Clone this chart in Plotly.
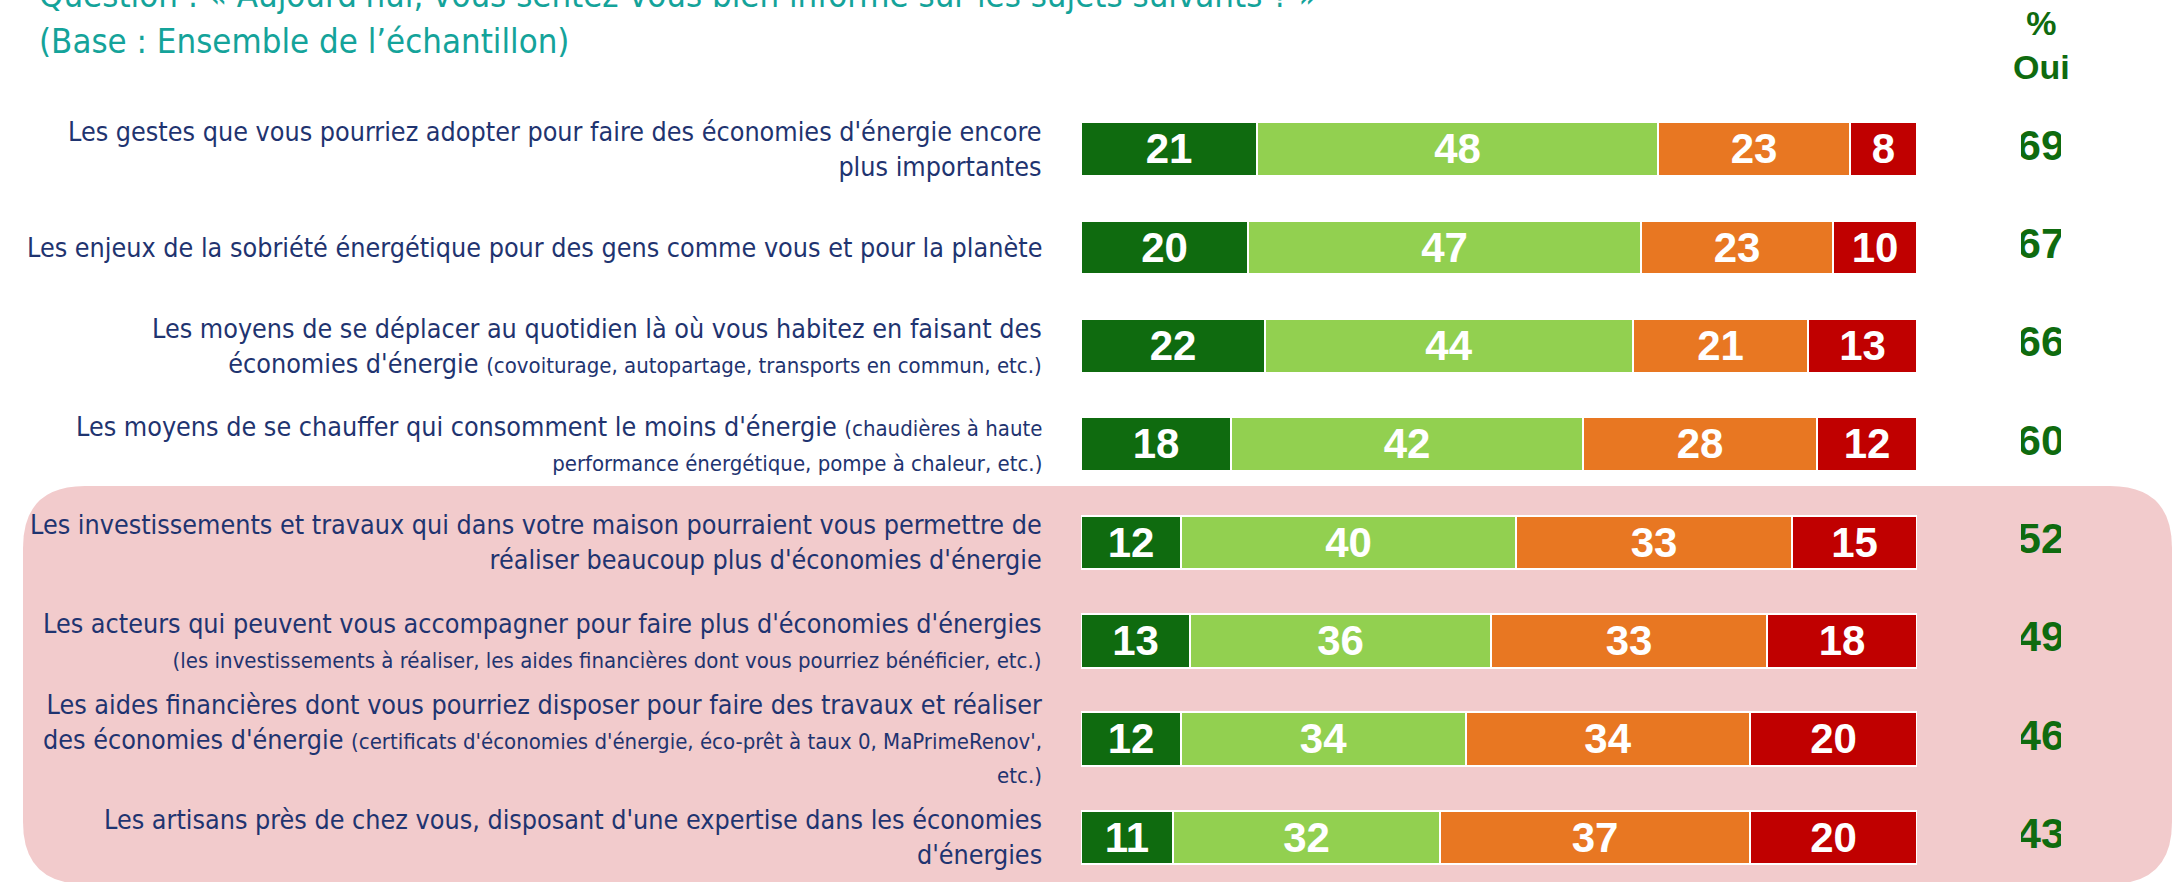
import plotly.graph_objects as go

W, H = 2177, 882

# ---------------- data ----------------
labels_main = [
    "Les gestes que vous pourriez adopter pour faire des économies d'énergie encore<br>plus importantes",
    "Les enjeux de la sobriété énergétique pour des gens comme vous et pour la planète",
    "Les moyens de se déplacer au quotidien là où vous habitez en faisant des<br>économies d'énergie {s}(covoiturage, autopartage, transports en commun, etc.){e}",
    "Les moyens de se chauffer qui consomment le moins d'énergie {s}(chaudières à haute{e}<br>{s}performance énergétique, pompe à chaleur, etc.){e}",
    "Les investissements et travaux qui dans votre maison pourraient vous permettre de<br>réaliser beaucoup plus d'économies d'énergie",
    "Les acteurs qui peuvent vous accompagner pour faire plus d'économies d'énergies<br>{s}(les investissements à réaliser, les aides financières dont vous pourriez bénéficier, etc.){e}",
    "Les aides financières dont vous pourriez disposer pour faire des travaux et réaliser<br>des économies d'énergie {s}(certificats d'économies d'énergie, éco-prêt à taux 0, MaPrimeRenov',{e}<br>{s}etc.){e}",
    "Les artisans près de chez vous, disposant d'une expertise dans les économies<br>d'énergies",
]
series_names = ["Oui, très bien", "Oui, assez bien", "Non, pas vraiment", "Non, pas du tout"]
tres_bien = [21, 20, 22, 18, 12, 13, 12, 11]
assez_bien = [48, 47, 44, 42, 40, 36, 34, 32]
pas_vraiment = [23, 23, 21, 28, 33, 33, 34, 37]
pas_du_tout = [8, 10, 13, 12, 15, 18, 20, 20]
pct_oui = [69, 67, 66, 60, 52, 49, 46, 43]

title_line1 = "Question : « Aujourd'hui, vous sentez-vous bien informé sur les sujets suivants ? »"
title_line2 = "(Base : Ensemble de l’échantillon)"
oui_header = "%<br>Oui"

# ---------------- styles ----------------
colors = ["#0F6B0F", "#92D050", "#E87722", "#C00000"]
NARROW = "Liberation Sans Narrow, Arial Narrow, DejaVu Sans Condensed, sans-serif"
ARIAL = "Liberation Sans, Arial, sans-serif"
LABEL_COLOR = "#1F3470"
TEAL = "#14A39A"
GREEN_TXT = "#0F6B0F"
LABEL_SIZE = 26.7
SMALL_SIZE = 22

def px(x):
    return x / W

def py(y):
    return 1 - y / H

n = len(labels_main)
rows = list(range(n))

fig = go.Figure()
for name, vals, col in zip(series_names, [tres_bien, assez_bien, pas_vraiment, pas_du_tout], colors):
    fig.add_trace(go.Bar(
        y=rows, x=vals, name=name, orientation="h",
        marker=dict(color=col, line=dict(color="white", width=2)),
        width=0.545,
        text=vals, texttemplate="%{text}",
        textposition="inside", insidetextanchor="middle",
        constraintext="none", textangle=0,
        textfont=dict(family=ARIAL, size=42, color="white", weight="bold"),
        hoverinfo="skip",
    ))

fig.add_trace(go.Scatter(
    x=[0.5] * n, y=rows, mode="text", text=[str(v) for v in pct_oui],
    textfont=dict(family=ARIAL, size=43, color=GREEN_TXT, weight="bold"),
    xaxis="x2", yaxis="y", hoverinfo="skip", showlegend=False,
))

# y axis mapping: row centers at 149 + 98.33*i px
row0 = 149.0
step = 98.33
top_px = row0 - 0.5 * step
bottom_px = H
y_bottom_val = (bottom_px - row0) / step

fig.update_layout(
    width=W, height=H,
    margin=dict(l=0, r=0, t=0, b=0),
    paper_bgcolor="white", plot_bgcolor="rgba(0,0,0,0)",
    barmode="stack", bargap=0,
    showlegend=False,
    xaxis=dict(domain=[px(1081), px(1917)], range=[0, 100], visible=False, fixedrange=True),
    xaxis2=dict(domain=[px(2021), px(2061)], range=[0, 1], visible=False, fixedrange=True),
    yaxis=dict(domain=[0, py(top_px)], range=[y_bottom_val, -0.5], visible=False, fixedrange=True),
)

# rounded pink box
x0, x1, y0, y1, r = 23, 2172, 486, 884, 62
path = (
    f"M {px(x0+r)},{py(y0)} L {px(x1-r)},{py(y0)} "
    f"Q {px(x1)},{py(y0)} {px(x1)},{py(y0+r)} "
    f"L {px(x1)},{py(y1-r)} Q {px(x1)},{py(y1)} {px(x1-r)},{py(y1)} "
    f"L {px(x0+r)},{py(y1)} Q {px(x0)},{py(y1)} {px(x0)},{py(y1-r)} "
    f"L {px(x0)},{py(y0+r)} Q {px(x0)},{py(y0)} {px(x0+r)},{py(y0)} Z"
)
fig.add_shape(type="path", path=path, xref="paper", yref="paper",
              fillcolor="#F2CBCC", line=dict(width=0), layer="below")

# labels
s_open = f"<span style='font-size:{SMALL_SIZE}px'>"
s_close = "</span>"
for i, lab in enumerate(labels_main):
    txt = lab.replace("{s}", s_open).replace("{e}", s_close)
    fig.add_annotation(
        x=px(1044), xref="paper", y=i, yref="y",
        text=txt, showarrow=False, xanchor="right", yanchor="middle", align="right",
        font=dict(family=NARROW, size=LABEL_SIZE, color=LABEL_COLOR),
    )

# title
fig.add_annotation(x=px(37), y=py(-5), xref="paper", yref="paper", text=title_line1,
                   showarrow=False, xanchor="left", yanchor="middle",
                   font=dict(family=NARROW, size=34.5, color=TEAL))
fig.add_annotation(x=px(37), y=py(41), xref="paper", yref="paper", text=title_line2,
                   showarrow=False, xanchor="left", yanchor="middle",
                   font=dict(family=NARROW, size=34.5, color=TEAL))

# % Oui header
fig.add_annotation(x=px(2041), y=py(45), xref="paper", yref="paper", text=oui_header,
                   showarrow=False, xanchor="center", yanchor="middle", align="center",
                   font=dict(family=ARIAL, size=34, color=GREEN_TXT, weight="bold"))

fig.write_html("out.html", config={"displayModeBar": False},
               post_script="document.body.style.margin='0';")
